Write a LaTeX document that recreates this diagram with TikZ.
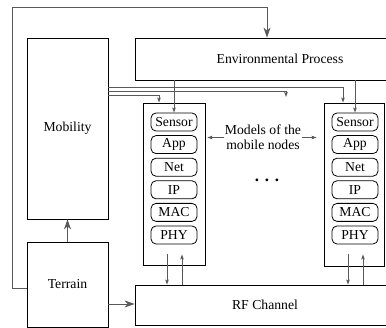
\documentclass[tikz,border=0pt]{standalone}
\usepackage{fontspec}
\setmainfont{Liberation Serif}
\usetikzlibrary{arrows.meta}

\begin{document}
\begin{tikzpicture}[x=1pt,y=-1pt,font=\fontsize{13.7}{15}\selectfont,
  block/.style={draw,line width=0.8pt,inner sep=0},
  layer/.style={draw,rounded corners=5pt,line width=0.8pt,inner sep=0,minimum width=46pt,minimum height=18pt},
  conn/.style={draw=black!65,line width=0.9pt},
  bigtip/.style={-{Stealth[length=10pt,width=7pt,inset=3pt]}},
  smalltip/.style={-{Stealth[length=5pt,width=3.5pt,inset=1pt]}}]
\useasboundingbox (0,0) rectangle (386,328);
\clip (0,0) rectangle (386,328);
\node[block,minimum width=81pt,minimum height=181pt] (mob) at (67.5,128.5) {Mobility};
\node[block,minimum width=81pt,minimum height=85pt] (ter) at (67.5,284.5) {Terrain};
\node[block,minimum width=290pt,minimum height=42pt] (env) at (280,59) {Environmental Process};
\node[block,minimum width=260pt,minimum height=40pt] (rf) at (265,305) {RF Channel};
\node[block,minimum width=62pt,minimum height=162pt] (n1) at (174,184) {};
\node[block,minimum width=60pt,minimum height=163pt] (n2) at (354,184.5) {};
\node[layer] (s1) at (174,122) {Sensor};
\node[layer] (a1) at (174,144.6) {App};
\node[layer] (t1) at (174,167.2) {Net};
\node[layer] (i1) at (174,189.8) {IP};
\node[layer] (m1) at (174,212.4) {MAC};
\node[layer] (p1) at (174,235) {PHY};
\node[layer] (s2) at (355,122) {Sensor};
\node[layer] (a2) at (355,144.6) {App};
\node[layer] (t2) at (355,167.2) {Net};
\node[layer] (i2) at (355,189.8) {IP};
\node[layer] (m2) at (355,212.4) {MAC};
\node[layer] (p2) at (355,235) {PHY};
\node[align=center,inner sep=1pt] (models) at (263,137.5) {Models of the\\mobile nodes};
\node[font=\fontsize{17}{20}\selectfont\bfseries] (dots) at (267,180) {. . .};
\coordinate (more) at (286,97);
\coordinate (d1) at ([shift={(-7,10)}]p1.south);
\coordinate (u1) at ([shift={(8,10)}]p1.south);
\coordinate (d2) at ([shift={(-7,10)}]p2.south);
\coordinate (u2) at ([shift={(8,10)}]p2.south);
\coordinate (t2rf) at ([yshift=-19.5pt]ter.east);
\draw[conn,bigtip] ([yshift=-3.5pt]ter.west) -| (12,7) -| ([xshift=-13pt]env.north);
\draw[conn,bigtip] (ter.north) -- (mob.south);
\draw[conn,bigtip] (t2rf) -- (t2rf -| rf.west);
\draw[conn,smalltip] ([yshift=41pt]mob.east) -| ([xshift=-11pt]n2.north);
\draw[conn,smalltip] ([yshift=37pt]mob.east) -| (more);
\draw[conn,smalltip] ([yshift=33pt]mob.east) -| ([xshift=-15pt]n1.north);
\draw[conn,smalltip] (env.south -| s1.north) -- (s1.north);
\draw[conn,smalltip] (env.south -| s2.north) -- (s2.north);
\draw[conn,smalltip] (d1) -- (d1 |- rf.north);
\draw[conn,smalltip] (u1 |- rf.north) -- (u1);
\draw[conn,smalltip] (d2) -- (d2 |- rf.north);
\draw[conn,smalltip] (u2 |- rf.north) -- (u2);
\draw[conn,smalltip,shorten >=2pt] (models.west) -- (models.west -| n1.east);
\draw[conn,smalltip,shorten >=7pt] (models.east) -- (models.east -| n2.west);
\end{tikzpicture}
\end{document}
